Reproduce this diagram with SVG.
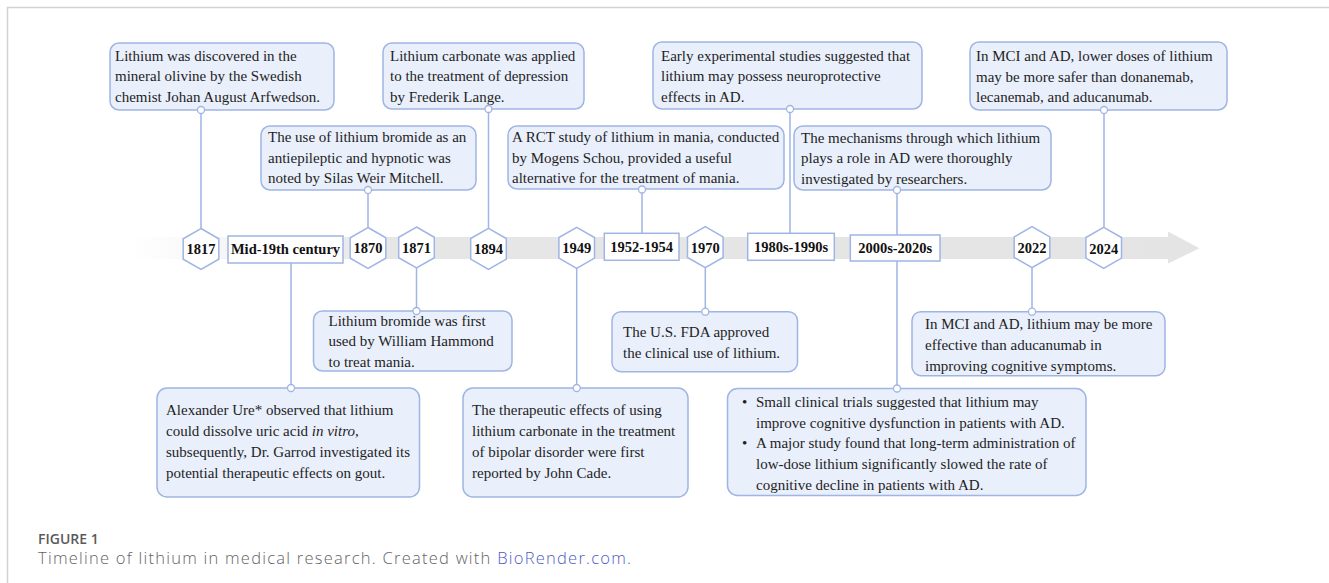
<svg xmlns="http://www.w3.org/2000/svg" width="1329" height="583" viewBox="0 0 1329 583">
<style>
.box{fill:#e9effb;stroke:#9fb5e4;stroke-width:1.5}
.lbl{fill:#ffffff;stroke:#9fb5e4;stroke-width:1.5}
.con{stroke:#9fb5e4;stroke-width:1.5;fill:none}
.dot{fill:#ffffff;stroke:#9fb5e4;stroke-width:1.3}
.t{font-family:"Liberation Serif","Times New Roman",serif;font-size:15px;fill:#1e1e1e}
.y{font-family:"Liberation Serif","Times New Roman",serif;font-size:14.5px;font-weight:bold;fill:#111;text-anchor:middle}
.cap1{font-family:"Open Sans","Liberation Sans",sans-serif;font-size:14px;font-weight:600;fill:#5a5a5a}
.cap2{font-family:"Open Sans","Liberation Sans",sans-serif;font-size:16.5px;font-weight:300;letter-spacing:1.25px;fill:#646464}
</style>
<defs>
<linearGradient id="band" x1="130" y1="0" x2="1170" y2="0" gradientUnits="userSpaceOnUse">
<stop offset="0" stop-color="#e6e6e6" stop-opacity="0"/>
<stop offset="0.25" stop-color="#e6e6e6" stop-opacity="1"/>
<stop offset="1" stop-color="#e4e4e4" stop-opacity="1"/>
</linearGradient>
<polygon id="hex" points="0,-20.5 17.8,-10.25 17.8,10.25 0,20.5 -17.8,10.25 -17.8,-10.25"/>
</defs>
<rect width="1329" height="583" fill="#ffffff"/>
<g id="frame" stroke="#d2d2d2" stroke-width="1.5" fill="none">
<path d="M7.5 583 V7.5 H1329"/>
</g>
<g id="timeline">
<rect x="130" y="237" width="1039" height="22" fill="url(#band)"/>
<polygon points="1168,231.5 1199.5,248.3 1168,263.5" fill="#e4e4e4"/>
</g>
<g id="connectors">
<line class="con" x1="201" y1="110" x2="201" y2="229"/>
<line class="con" x1="291" y1="263" x2="291" y2="388"/>
<line class="con" x1="368" y1="190" x2="368" y2="228"/>
<line class="con" x1="416.5" y1="268" x2="416.5" y2="311"/>
<line class="con" x1="488.5" y1="109" x2="488.5" y2="228"/>
<line class="con" x1="576.7" y1="268" x2="576.7" y2="388"/>
<line class="con" x1="642" y1="189" x2="642" y2="233.3"/>
<line class="con" x1="705.3" y1="268" x2="705.3" y2="311.7"/>
<line class="con" x1="790" y1="109" x2="790" y2="233.3"/>
<line class="con" x1="897" y1="190" x2="897" y2="235"/>
<line class="con" x1="897" y1="261" x2="897" y2="388.5"/>
<line class="con" x1="1032" y1="268" x2="1032" y2="311.7"/>
<line class="con" x1="1104" y1="110" x2="1104" y2="227.5"/>
</g>
<g id="y1817"><use href="#hex" x="201" y="249" class="lbl"/><text class="y" x="201" y="254">1817</text></g>
<g id="ymid19"><rect class="lbl" x="228" y="236" width="115" height="27"/><text class="y" x="285.5" y="254">Mid-19th century</text></g>
<g id="y1870"><use href="#hex" x="368" y="248" class="lbl"/><text class="y" x="368" y="253">1870</text></g>
<g id="y1871"><use href="#hex" x="416.5" y="247.5" class="lbl"/><text class="y" x="416.5" y="252.5">1871</text></g>
<g id="y1894"><use href="#hex" x="488.5" y="248.8" class="lbl"/><text class="y" x="488.5" y="254">1894</text></g>
<g id="y1949"><use href="#hex" x="576.7" y="247.8" class="lbl"/><text class="y" x="576.7" y="253">1949</text></g>
<g id="y1952"><rect class="lbl" x="604.3" y="233.3" width="74.7" height="27"/><text class="y" x="641.7" y="251.5">1952-1954</text></g>
<g id="y1970"><use href="#hex" x="705.3" y="247.2" class="lbl"/><text class="y" x="705.3" y="252.5">1970</text></g>
<g id="y1980s"><rect class="lbl" x="747.7" y="233.3" width="86.6" height="27"/><text class="y" x="791" y="251.5">1980s-1990s</text></g>
<g id="y2000s"><rect class="lbl" x="850.3" y="235" width="89.7" height="26"/><text class="y" x="895.2" y="253">2000s-2020s</text></g>
<g id="y2022"><use href="#hex" x="1032" y="247.2" class="lbl"/><text class="y" x="1032" y="252.5">2022</text></g>
<g id="y2024"><use href="#hex" x="1103.7" y="247.8" class="lbl"/><text class="y" x="1103.7" y="253.5">2024</text></g>

<g id="box1817"><rect class="box" x="110" y="43" width="224" height="67" rx="9"/>
<text class="t"><tspan x="115" y="60.5">Lithium was discovered in the</tspan><tspan x="115" y="81">mineral olivine by the Swedish</tspan><tspan x="115" y="101.5">chemist Johan August Arfwedson.</tspan></text>
<circle class="dot" cx="201" cy="110" r="3.5"/></g>

<g id="box1894"><rect class="box" x="383" y="43" width="201" height="66" rx="9"/>
<text class="t"><tspan x="390" y="60.5">Lithium carbonate was applied</tspan><tspan x="390" y="81">to the treatment of depression</tspan><tspan x="390" y="101.5">by Frederik Lange.</tspan></text>
<circle class="dot" cx="488.5" cy="109" r="3.5"/></g>

<g id="box1980s"><rect class="box" x="653" y="42" width="269" height="67" rx="9"/>
<text class="t"><tspan x="661" y="60.5">Early experimental studies suggested that</tspan><tspan x="661" y="81">lithium may possess neuroprotective</tspan><tspan x="661" y="101.5">effects in AD.</tspan></text>
<circle class="dot" cx="790" cy="109" r="3.5"/></g>

<g id="box2024"><rect class="box" x="970" y="42" width="257" height="68" rx="9"/>
<text class="t"><tspan x="976" y="61">In MCI and AD, lower doses of lithium</tspan><tspan x="976" y="81.5">may be more safer than donanemab,</tspan><tspan x="976" y="102">lecanemab, and aducanumab.</tspan></text>
<circle class="dot" cx="1104" cy="110" r="3.5"/></g>

<g id="box1870"><rect class="box" x="261" y="126" width="215" height="64" rx="9"/>
<text class="t"><tspan x="268" y="142">The use of lithium bromide as an</tspan><tspan x="268" y="162.5">antiepileptic and hypnotic was</tspan><tspan x="268" y="183">noted by Silas Weir Mitchell.</tspan></text>
<circle class="dot" cx="368" cy="190" r="3.5"/></g>

<g id="box1952"><rect class="box" x="508" y="126" width="276" height="63" rx="9"/>
<text class="t"><tspan x="512" y="142">A RCT study of lithium in mania, conducted</tspan><tspan x="512" y="162.5">by Mogens Schou, provided a useful</tspan><tspan x="512" y="183">alternative for the treatment of mania.</tspan></text>
<circle class="dot" cx="642" cy="189.5" r="3.5"/></g>

<g id="box2000top"><rect class="box" x="794" y="126" width="257" height="64" rx="9"/>
<text class="t"><tspan x="801" y="142.5">The mechanisms through which lithium</tspan><tspan x="801" y="163">plays a role in AD were thoroughly</tspan><tspan x="801" y="183.5">investigated by researchers.</tspan></text>
<circle class="dot" cx="897" cy="190" r="3.5"/></g>

<g id="box1871"><rect class="box" x="313.5" y="311" width="198.5" height="60" rx="9"/>
<text class="t"><tspan x="328.5" y="325.5">Lithium bromide was first</tspan><tspan x="328.5" y="346">used by William Hammond</tspan><tspan x="328.5" y="366.5">to treat mania.</tspan></text>
<circle class="dot" cx="416.5" cy="311" r="3.5"/></g>

<g id="box1970"><rect class="box" x="612" y="311.7" width="185.5" height="60" rx="9"/>
<text class="t"><tspan x="623" y="336.5">The U.S. FDA approved</tspan><tspan x="623" y="357.5">the clinical use of lithium.</tspan></text>
<circle class="dot" cx="705.3" cy="311.7" r="3.5"/></g>

<g id="box2022"><rect class="box" x="912" y="311.7" width="253" height="64" rx="9"/>
<text class="t"><tspan x="925" y="328.5">In MCI and AD, lithium may be more</tspan><tspan x="925" y="349.5">effective than aducanumab in</tspan><tspan x="925" y="370.5">improving cognitive symptoms.</tspan></text>
<circle class="dot" cx="1032" cy="311.7" r="3.5"/></g>

<g id="boxmid19"><rect class="box" x="157" y="388" width="262.5" height="109" rx="10"/>
<text class="t"><tspan x="166" y="415">Alexander Ure* observed that lithium</tspan><tspan x="166" y="436">could dissolve uric acid <tspan font-style="italic">in vitro</tspan>,</tspan><tspan x="166" y="457">subsequently, Dr. Garrod investigated its</tspan><tspan x="166" y="478">potential therapeutic effects on gout.</tspan></text>
<circle class="dot" cx="291" cy="388" r="3.5"/></g>

<g id="box1949"><rect class="box" x="463" y="388" width="225" height="109" rx="10"/>
<text class="t"><tspan x="472" y="415">The therapeutic effects of using</tspan><tspan x="472" y="436">lithium carbonate in the treatment</tspan><tspan x="472" y="457">of bipolar disorder were first</tspan><tspan x="472" y="478">reported by John Cade.</tspan></text>
<circle class="dot" cx="576.7" cy="388" r="3.5"/></g>

<g id="box2000bottom"><rect class="box" x="727.5" y="388.5" width="358.5" height="107" rx="10"/>
<text class="t"><tspan x="742" y="406.5">•</tspan><tspan x="756" y="406.5">Small clinical trials suggested that lithium may</tspan><tspan x="756" y="427.5">improve cognitive dysfunction in patients with AD.</tspan><tspan x="742" y="448">•</tspan><tspan x="756" y="448">A major study found that long-term administration of</tspan><tspan x="756" y="469">low-dose lithium significantly slowed the rate of</tspan><tspan x="756" y="489.5">cognitive decline in patients with AD.</tspan></text>
<circle class="dot" cx="897" cy="388.5" r="3.5"/></g>

<g id="caption">
<text class="cap1" x="38" y="544">FIGURE 1</text>
<text class="cap2" x="38" y="564">Timeline of lithium in medical research. Created with <tspan fill="#4f5bc4">BioRender.com</tspan>.</text>
</g>
</svg>
